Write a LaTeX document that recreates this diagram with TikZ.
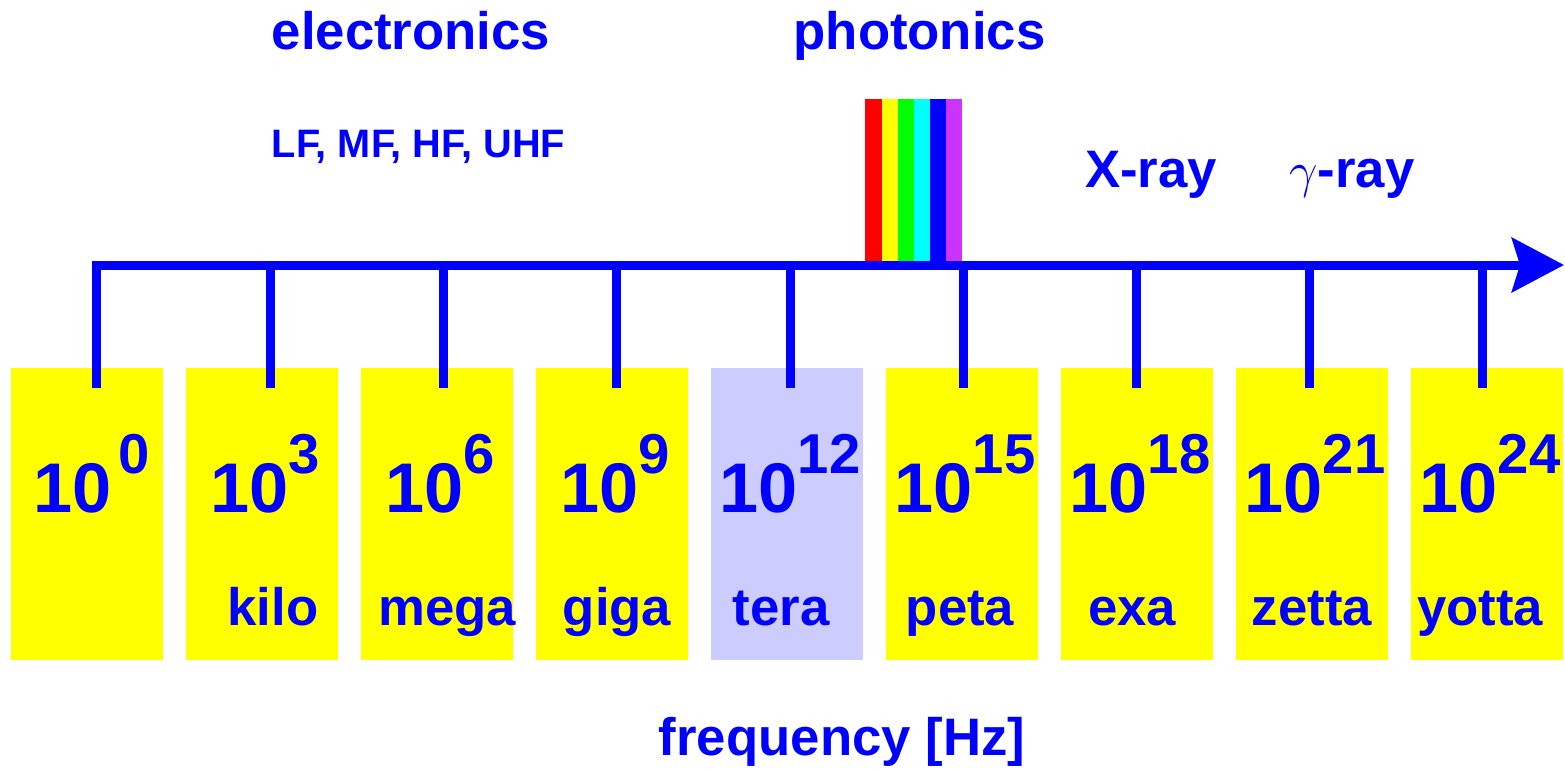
\documentclass[tikz,border=0pt]{standalone}
\usepackage{fontspec}
\setmainfont{Liberation Sans}
\usetikzlibrary{arrows.meta}
\definecolor{lilac}{RGB}{204,204,255}
\definecolor{boxyellow}{RGB}{255,255,0}
\definecolor{pureblue}{RGB}{0,0,255}
\definecolor{purered}{RGB}{255,0,0}
\definecolor{puregreen}{RGB}{0,255,0}
\definecolor{purecyan}{RGB}{0,255,255}
\definecolor{uvviolet}{RGB}{204,51,255}
\newcommand{\tenpow}[1]{10\raisebox{11pt}{\fontsize{16}{16}\selectfont #1}}

\begin{document}
\begin{tikzpicture}[
    box/.style={fill=boxyellow, minimum width=1.52cm, minimum height=2.92cm, inner sep=0pt},
    tickmark/.style={pureblue, line width=0.9mm},
    powerlabel/.style={pureblue, font=\fontsize{20}{20}\selectfont\bfseries, anchor=base, inner sep=0pt},
    unitname/.style={pureblue, font=\fontsize{15}{15}\selectfont\bfseries, anchor=base, inner sep=0pt},
    headtext/.style={pureblue, font=\fontsize{15}{15}\selectfont\bfseries, anchor=base, inner sep=0pt}
]
    \useasboundingbox (0,0) rectangle (15.65,7.70);

    % boxes
    \node[box] (b0) at (0.87,2.56) {};
    \node[box] (b3) at (2.62,2.56) {};
    \node[box] (b6) at (4.37,2.56) {};
    \node[box] (b9) at (6.12,2.56) {};
    \node[box, fill=lilac] (b12) at (7.87,2.56) {};
    \node[box] (b15) at (9.62,2.56) {};
    \node[box] (b18) at (11.37,2.56) {};
    \node[box] (b21) at (13.12,2.56) {};
    \node[box] (b24) at (14.87,2.56) {};

    % visible light
    \fill[purered] (8.65,5.05) rectangle (8.82,6.71);
    \fill[boxyellow] (8.82,5.05) rectangle (8.98,6.71);
    \fill[puregreen] (8.98,5.05) rectangle (9.14,6.71);
    \fill[purecyan] (9.14,5.05) rectangle (9.30,6.71);
    \fill[pureblue] (9.30,5.05) rectangle (9.46,6.71);
    \fill[uvviolet] (9.46,5.05) rectangle (9.62,6.71);

    % axis and ticks
    \coordinate (a0) at (0.96,5.05);   \coordinate (t0) at (0.96,3.82);
    \coordinate (a3) at (2.70,5.05);   \coordinate (t3) at (2.70,3.82);
    \coordinate (a6) at (4.43,5.05);   \coordinate (t6) at (4.43,3.82);
    \coordinate (a9) at (6.16,5.05);   \coordinate (t9) at (6.16,3.82);
    \coordinate (a12) at (7.90,5.05);  \coordinate (t12) at (7.90,3.82);
    \coordinate (a15) at (9.63,5.05);  \coordinate (t15) at (9.63,3.82);
    \coordinate (a18) at (11.36,5.05); \coordinate (t18) at (11.36,3.82);
    \coordinate (a21) at (13.09,5.05); \coordinate (t21) at (13.09,3.82);
    \coordinate (a24) at (14.82,5.05); \coordinate (t24) at (14.82,3.82);
    \coordinate (aend) at (15.64,5.05);
    \draw[tickmark, line join=miter, -{Stealth[length=5.2mm, width=5.4mm, inset=0.8mm]}] (t0) -- (a0) -- (aend);
    \draw[tickmark] (a3) -- (t3);
    \draw[tickmark] (a6) -- (t6);
    \draw[tickmark] (a9) -- (t9);
    \draw[tickmark] (a12) -- (t12);
    \draw[tickmark] (a15) -- (t15);
    \draw[tickmark] (a21) -- (t21);
    \draw[tickmark] (a18) -- (t18);
    \draw[tickmark] (a24) -- (t24);

    % powers of ten
    \node[powerlabel] (p0) at (0.92,2.58) {10\hspace{2pt}\raisebox{11pt}{\fontsize{16}{16}\selectfont 0}};
    \node[powerlabel] (p3) at (2.65,2.58) {\tenpow{3}};
    \node[powerlabel] (p6) at (4.40,2.58) {\tenpow{6}};
    \node[powerlabel] (p9) at (6.15,2.58) {\tenpow{9}};
    \node[powerlabel] (p12) at (7.90,2.58) {\tenpow{12}};
    \node[powerlabel] (p15) at (9.65,2.58) {\tenpow{15}};
    \node[powerlabel] (p18) at (11.40,2.58) {\tenpow{18}};
    \node[powerlabel] (p21) at (13.15,2.58) {\tenpow{21}};
    \node[powerlabel] (p24) at (14.90,2.58) {\tenpow{24}};

    % prefixes
    \node[unitname] (kilo) at (2.73,1.45) {kilo};
    \node[unitname] (mega) at (4.47,1.45) {mega};
    \node[unitname] (giga) at (6.17,1.45) {giga};
    \node[unitname] (tera) at (7.81,1.45) {tera};
    \node[unitname] (peta) at (9.60,1.45) {peta};
    \node[unitname] (exa) at (11.32,1.45) {exa};
    \node[unitname] (zetta) at (13.12,1.45) {zetta};
    \node[unitname] (yotta) at (14.80,1.45) {yotta};

    % headings
    \node[headtext] (elec) at (4.11,7.20) {electronics};
    \node[headtext] (phot) at (9.195,7.20) {photonics};
    \node[headtext, font=\fontsize{11.3}{11.3}\selectfont\bfseries] (bands) at (4.185,6.13) {LF, MF, HF, UHF};
    \node[headtext] (xray) at (11.51,5.82) {X-ray};
    \node[headtext] (gray) at (13.52,5.82) {$\gamma$-ray};
    \node[headtext] (freq) at (8.42,0.15) {frequency [Hz]};
\end{tikzpicture}
\end{document}
